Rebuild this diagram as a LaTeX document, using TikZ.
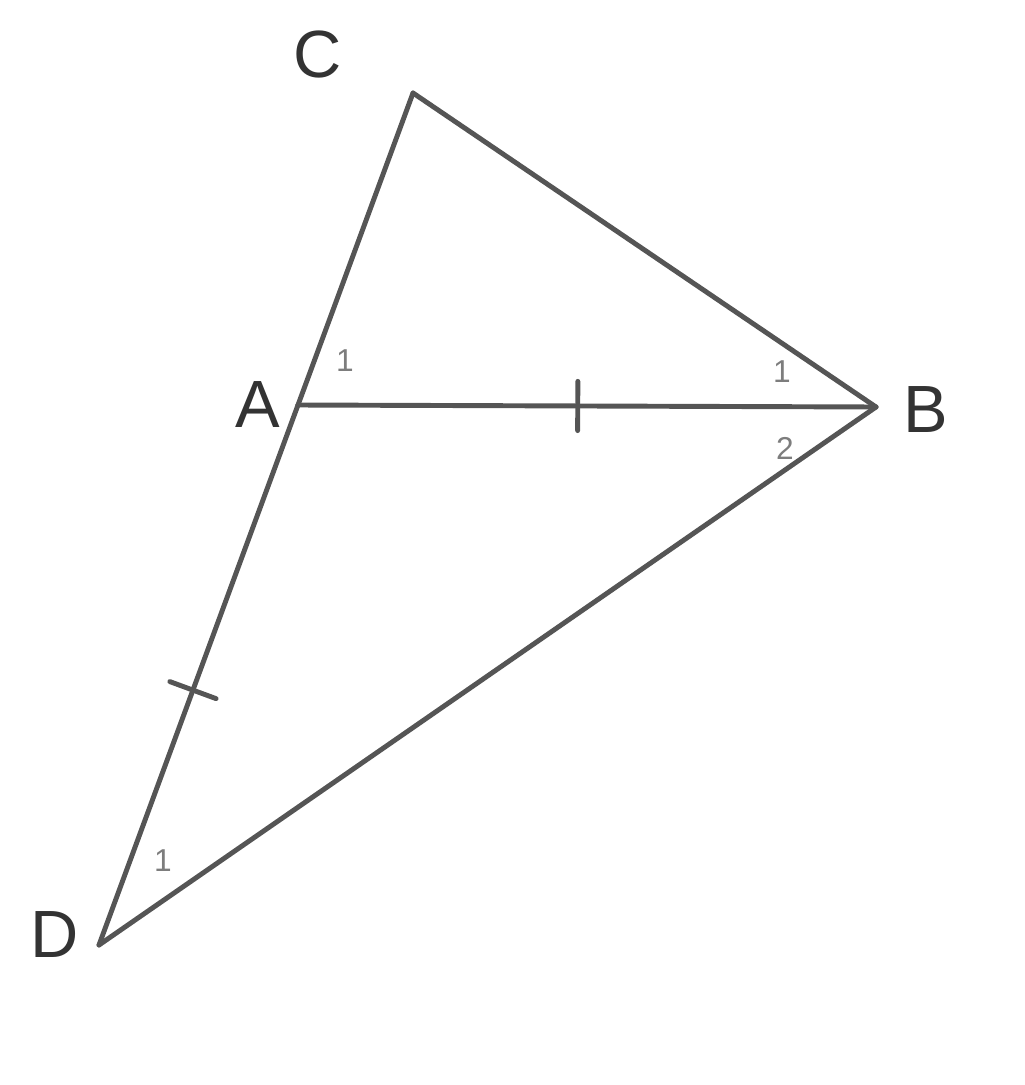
\documentclass[tikz,border=0pt]{standalone}
\usepackage{fontspec}
\setmainfont{Liberation Sans}
\usetikzlibrary{decorations.markings}
\tikzset{tickpos/.store in=\tickpos,tickpos=0.5}
\definecolor{linegray}{RGB}{85,85,85}
\definecolor{numgray}{RGB}{125,125,125}

\begin{document}
\begin{tikzpicture}
  [
    x=0.01cm,y=-0.01cm,
    font=\fontsize{19}{22}\selectfont,
    edge/.style={
      draw=linegray,
      line width=1.4pt,
      line cap=round,line join=round
    },
    tick/.style={postaction={%
                      decorate,
                      decoration={
                          markings,mark={
                            at position \tickpos
                            with {
                              \draw[linegray,line width=1.4pt] (0pt,7pt) -- (0pt,-7pt);
                            }
                          }
                        }
                      }
                    },
    vlabel/.style={inner sep=0pt,text=black!80},
    angle/.style={font=\fontsize{9}{10}\selectfont,text=numgray,inner sep=0pt},
  ]
  \useasboundingbox (0,0) rectangle (1024,1085);

  \coordinate (C) at (413,93);
  \coordinate (A) at (298,405);
  \coordinate (B) at (876,407);
  \coordinate (D) at (99,945);

  \node[vlabel] (lbl-c) at (318,55)  {C};
  \node[vlabel] (lbl-a) at (258,405) {A};
  \node[vlabel] (lbl-b) at (926,410) {B};
  \node[vlabel] (lbl-d) at (55,935)  {D};

  \draw[edge] (C) -- (B);
  \draw[edge] (C) -- (A);
  \draw[edge,tick,tickpos=0.484] (A) -- (B);
  \draw[edge,tick,tickpos=0.528] (A) -- (D);
  \draw[edge] (D) -- (B);

  \node[angle] (ang-a)  at (345,361) {1};
  \node[angle] (ang-b1) at (782,372) {1};
  \node[angle] (ang-b2) at (785,448) {2};
  \node[angle] (ang-d)  at (163,861) {1};
\end{tikzpicture}
\end{document}
